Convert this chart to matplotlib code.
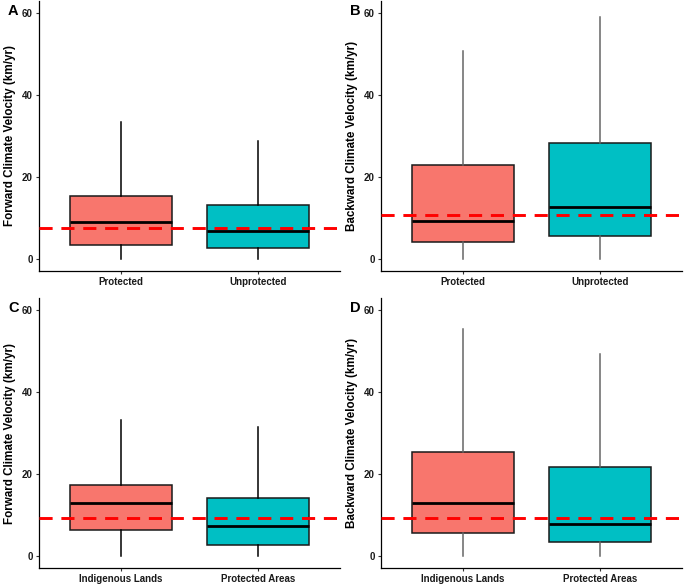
import matplotlib
matplotlib.use("Agg")
import matplotlib.pyplot as plt

plt.rcParams['font.family'] = ['Liberation Sans', 'DejaVu Sans']
plt.rcParams['font.weight'] = 'bold'

# group labels per row
groups_top = ["Protected", "Unprotected"]
groups_bottom = ["Indigenous Lands", "Protected Areas"]

# box stats: [whislo, q1, median, q3, whishi]
stats_A = [[0.0, 3.3, 9.0, 15.4, 33.4], [0.0, 2.6, 6.7, 13.2, 28.8]]
stats_B = [[0.0, 4.1, 9.3, 22.8, 50.8], [0.0, 5.6, 12.7, 28.4, 59.0]]
stats_C = [[0.0, 6.4, 13.0, 17.3, 33.3], [0.0, 2.6, 7.3, 14.1, 31.5]]
stats_D = [[0.0, 5.6, 12.9, 25.3, 55.4], [0.0, 3.4, 7.8, 21.7, 49.2]]

# overall means (dashed red line)
mean_A = 7.6
mean_B = 10.8
mean_C = 9.3
mean_D = 9.3

fill_colors = ['#F8766D', '#00BFC4']


def draw_panel(ax, stats, groups, mean, ylabel, letter, whisker_color):
    bxp_stats = []
    for s, g in zip(stats, groups):
        bxp_stats.append({'whislo': s[0], 'q1': s[1], 'med': s[2], 'q3': s[3],
                          'whishi': s[4], 'label': g})
    bp = ax.bxp(bxp_stats, positions=[1, 2], widths=0.75, patch_artist=True,
                showfliers=False, showcaps=False,
                boxprops=dict(edgecolor='#1a1a1a', linewidth=1.1),
                medianprops=dict(color='black', linewidth=2.0),
                whiskerprops=dict(color=whisker_color, linewidth=1.1))
    for patch, c in zip(bp['boxes'], fill_colors):
        patch.set_facecolor(c)
    ax.axhline(mean, color='red', linestyle=(0, (4.5, 3)), linewidth=2.1, zorder=5)

    ax.set_xlim(0.4, 2.6)
    ax.set_ylim(-3, 63)
    ax.set_yticks([0, 20, 40, 60])
    ax.spines['top'].set_visible(False)
    ax.spines['right'].set_visible(False)
    ax.spines['left'].set_linewidth(0.9)
    ax.spines['bottom'].set_linewidth(0.9)
    ax.tick_params(axis='both', length=2.5, width=0.8, color='#333333',
                   labelsize=7, labelcolor='#1a1a1a', pad=2)
    for lab in ax.get_xticklabels() + ax.get_yticklabels():
        lab.set_fontweight('bold')
    ax.set_ylabel(ylabel, fontsize=8.4, fontweight='bold', labelpad=4)
    ax.text(-0.103, 0.99, letter, transform=ax.transAxes, fontsize=10.5,
            fontweight='bold', va='top', ha='left')


fig = plt.figure(figsize=(6.84, 5.84), dpi=100)

W, H = 684.0, 584.0
axA = fig.add_axes([39 / W, (H - 271) / H, 301 / W, 270 / H])
axB = fig.add_axes([381 / W, (H - 271) / H, 301 / W, 270 / H])
axC = fig.add_axes([39 / W, (H - 568) / H, 301 / W, 270 / H])
axD = fig.add_axes([381 / W, (H - 568) / H, 301 / W, 270 / H])

draw_panel(axA, stats_A, groups_top, mean_A, 'Forward Climate Velocity (km/yr)', 'A', 'black')
draw_panel(axB, stats_B, groups_top, mean_B, 'Backward Climate Velocity (km/yr)', 'B', '#666666')
draw_panel(axC, stats_C, groups_bottom, mean_C, 'Forward Climate Velocity (km/yr)', 'C', 'black')
draw_panel(axD, stats_D, groups_bottom, mean_D, 'Backward Climate Velocity (km/yr)', 'D', '#666666')

fig.savefig("out.png", dpi=100)
